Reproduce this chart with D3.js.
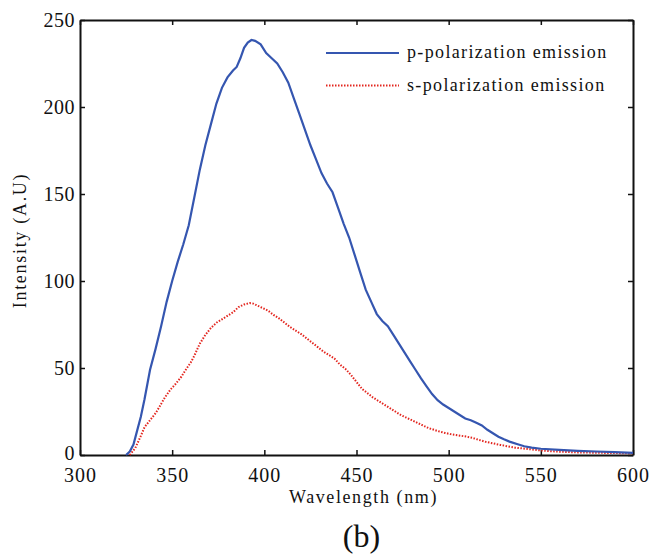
<!DOCTYPE html>
<html>
<head>
<meta charset="utf-8">
<script src="https://cdn.jsdelivr.net/npm/d3@7"></script>
<style>
  body { margin: 0; background: #fff; }
  text { font-family: "Liberation Serif", "Times New Roman", serif; fill: #111; }
</style>
</head>
<body>
<div id="chart-area"></div>
<script>
// Emission spectra
var pWave = [325, 327, 329, 331, 333, 335, 338, 341, 344, 347, 350, 353, 356, 359, 362, 365, 368, 371, 374, 377,
    380, 383, 385, 387, 389, 391, 393, 395, 398, 401, 404, 407, 410, 413, 416, 419, 422, 425, 428, 431,
    434, 437, 440, 443, 446, 449, 452, 455, 458, 461, 464, 467, 470, 473, 476, 479, 482, 485, 488, 491,
    494, 497, 500, 503, 506, 509, 512, 515, 518, 521, 524, 527, 530, 533, 537, 541, 545, 550, 560, 570,
    580, 590, 600];
var pIntensity = [0, 2, 6, 14, 22, 32, 49, 61, 74, 88, 100, 111, 121, 132, 148, 164, 178, 190, 202, 211,
    217, 221, 223, 228, 234, 237, 238.5, 238, 236, 231, 228, 225, 220, 214, 205, 196, 187, 178, 170, 162,
    156, 151, 142, 133, 125, 115, 105, 95, 88, 81, 77, 74, 69, 64, 59, 54, 49, 44, 39.5, 35,
    31.5, 29, 27, 25, 23, 21, 20, 18.5, 17, 14.5, 12.5, 10.5, 9, 7.7, 6.3, 5, 4.2, 3.6, 3, 2.4,
    2, 1.6, 1.2];

var sWave = [327, 330, 333, 335, 338, 341, 343, 346, 349, 352, 355, 358, 360, 362, 365, 368, 371, 374, 377, 380,
    383, 386, 389, 392, 394, 396, 399, 402, 405, 408, 411, 414, 417, 420, 423, 426, 429, 432, 435, 438,
    441, 444, 447, 450, 453, 456, 459, 462, 465, 468, 471, 474, 477, 480, 483, 486, 489, 492, 495, 498,
    501, 504, 507, 510, 513, 516, 520, 524, 528, 532, 536, 540, 545, 550, 555, 560, 570, 580, 590, 600];
var sIntensity = [0, 4, 11, 16, 20, 24, 27.5, 33, 37.5, 41, 45, 50, 53, 57, 64, 69, 73, 76, 78, 80,
    82, 85, 86.5, 87.3, 87, 86, 84.5, 83, 80.5, 78.5, 76, 73.5, 71.5, 69.5, 67, 64.5, 62, 59.5, 57.5, 55.5,
    52, 49.5, 46, 42, 38, 35.5, 33, 31, 29, 27, 25, 23, 21.5, 20, 18.5, 17, 15.5, 14.5, 13.5, 12.7,
    12, 11.5, 11, 10.5, 9.8, 8.8, 7.6, 6.7, 5.8, 5, 4.2, 3.8, 3.2, 2.6, 2.2, 1.9, 1.5, 1.3, 1.1, 1];

var xTicks = [300, 350, 400, 450, 500, 550, 600];
var yTicks = [0, 50, 100, 150, 200, 250];
var seriesNames = ["p-polarization emission", "s-polarization emission"];

// Dimensions of chart area
var margin = { left:80, right:27, top:20, bottom:103 };
var width = 660 - margin.left - margin.right,
    height = 558 - margin.top - margin.bottom;

var svg = d3.select("#chart-area")
    .append("svg")
        .attr("width", 660)
        .attr("height", 558)
    .append("g")
        .attr("transform", "translate(" + margin.left + ", " + margin.top + ")");

// Scales
var x = d3.scaleLinear().domain([300, 600]).range([0, width]);
var y = d3.scaleLinear().domain([0, 250]).range([height, 0]);

// Axes, ticks pointing inward (box on all four sides)
var xAxis = svg.append("g")
    .attr("transform", "translate(0," + height + ")")
    .call(d3.axisBottom(x).tickValues(xTicks).tickSizeInner(-5).tickSizeOuter(0).tickPadding(13));
var yAxis = svg.append("g")
    .call(d3.axisLeft(y).tickValues(yTicks).tickSizeInner(-5).tickSizeOuter(0).tickPadding(5));
var topAxis = svg.append("g")
    .call(d3.axisTop(x).tickValues(xTicks).tickSizeInner(-5).tickSizeOuter(0).tickFormat(""));
var rightAxis = svg.append("g")
    .attr("transform", "translate(" + width + ",0)")
    .call(d3.axisRight(y).tickValues(yTicks).tickSizeInner(-5).tickSizeOuter(0).tickFormat(""));

[xAxis, yAxis, topAxis, rightAxis].forEach(function(a){
    a.select(".domain").attr("stroke", "#111").attr("stroke-width", 2);
    a.selectAll(".tick line").attr("stroke", "#111").attr("stroke-width", 1.5);
    a.selectAll(".tick text")
        .attr("font-family", "Liberation Serif")
        .attr("font-size", "20px")
        .attr("fill", "#111");
});
xAxis.selectAll(".tick text").attr("letter-spacing", "1px");
yAxis.selectAll(".tick text").attr("letter-spacing", "0.5px");
// keep the "0" clear of the "300" below it
yAxis.selectAll(".tick text").filter(function(d){ return d == 0; }).attr("dy", "0.2em");

// Lines
var pData = pWave.map(function(w, i){ return { w: w, v: pIntensity[i] }; });
var sData = sWave.map(function(w, i){ return { w: w, v: sIntensity[i] }; });

var line = d3.line()
    .x(function(d){ return x(d.w); })
    .y(function(d){ return y(d.v); });

svg.append("path")
    .datum(sData)
    .attr("fill", "none")
    .attr("stroke", "#e3261f")
    .attr("stroke-width", 2)
    .attr("stroke-dasharray", "1.5,1.5")
    .attr("d", line);

svg.append("path")
    .datum(pData)
    .attr("fill", "none")
    .attr("stroke", "#3556b0")
    .attr("stroke-width", 2.2)
    .attr("d", line);

// Legend
var legend = svg.append("g")
    .attr("transform", "translate(" + (width - 307) + ", 33)");

seriesNames.forEach(function(name, i){
    var row = legend.append("g")
        .attr("transform", "translate(0, " + (i * 32.5) + ")");
    row.append("line")
        .attr("x1", 0).attr("x2", 73)
        .attr("y1", 0).attr("y2", 0)
        .attr("stroke", i == 0 ? "#3556b0" : "#e3261f")
        .attr("stroke-width", 2)
        .attr("stroke-dasharray", i == 0 ? null : "1.5,1.5");
    row.append("text")
        .attr("x", 81)
        .attr("y", 5)
        .attr("font-size", "18px")
        .attr("letter-spacing", "1.35px")
        .text(name);
});

// Labels
svg.append("text")
    .attr("x", width / 2 + 7)
    .attr("y", height + 48)
    .attr("font-size", "18px")
    .attr("letter-spacing", "1.6px")
    .attr("text-anchor", "middle")
    .text("Wavelength (nm)");

svg.append("text")
    .attr("transform", "translate(-54," + (height / 2 + 3) + ") rotate(-90)")
    .attr("font-size", "18px")
    .attr("letter-spacing", "1.7px")
    .attr("text-anchor", "middle")
    .text("Intensity (A.U)");

svg.append("text")
    .attr("x", width / 2 + 5)
    .attr("y", height + 92)
    .attr("font-size", "32px")
    .attr("text-anchor", "middle")
    .text("(b)");
</script>
</body>
</html>
